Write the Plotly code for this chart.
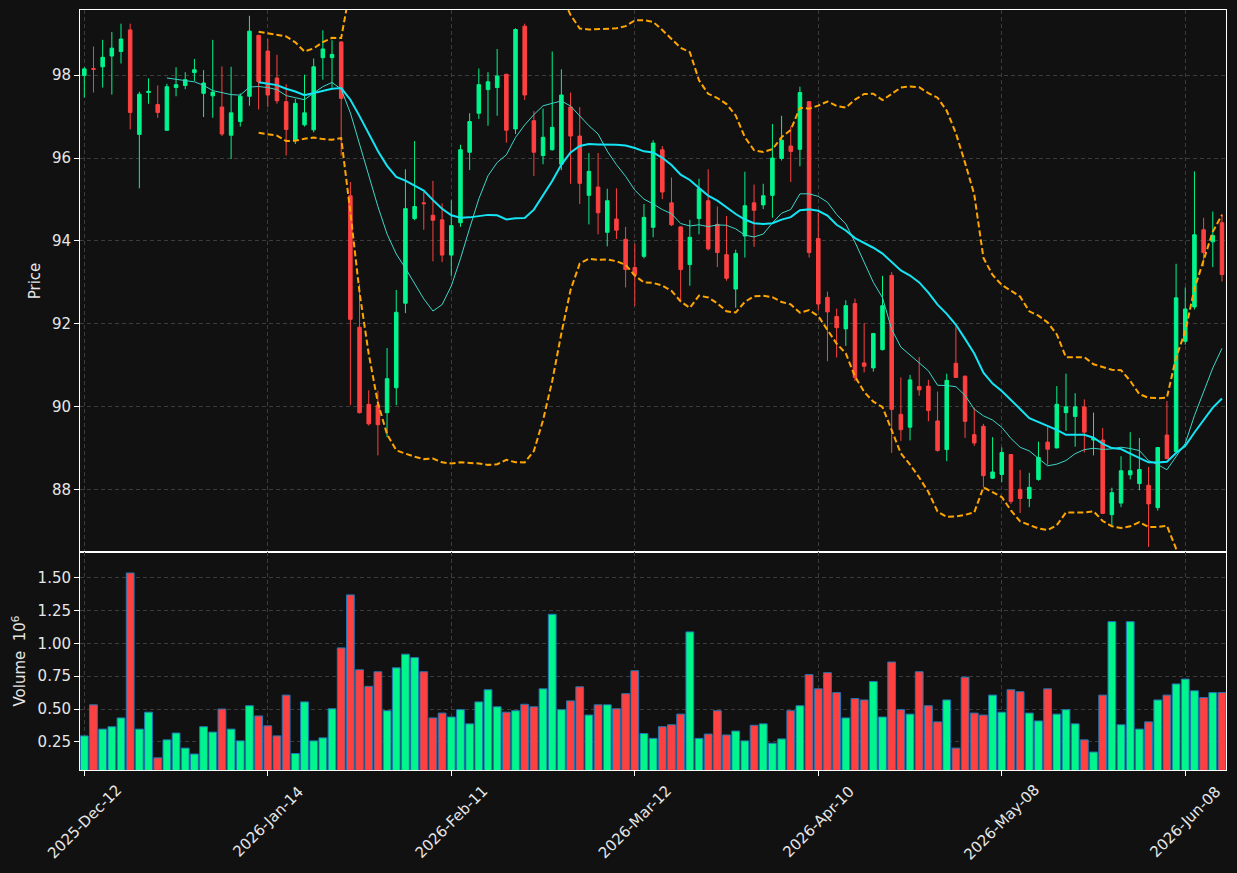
import pandas as pd
import numpy as np
import plotly.graph_objects as go

# ---------------- data ----------------
HOLIDAYS = ["2025-12-25", "2025-12-26", "2026-01-01", "2026-02-16", "2026-04-03", "2026-05-25"]
START_DATE = "2025-12-12"
N_BARS = 125

OPEN = [97.99, 98.16, 98.20, 98.46, 98.57, 99.09, 96.57, 97.58, 97.29, 96.67,
        97.70, 97.75, 98.06, 97.56, 97.50, 97.23, 96.55, 96.88, 97.49, 98.96,
        98.58, 97.93, 97.36, 96.43, 96.80, 96.68, 98.42, 98.42, 98.80, 95.09,
        91.92, 90.06, 90.04, 89.86, 90.46, 92.50, 94.54, 94.92, 94.62, 94.51,
        93.66, 94.44, 96.14, 97.08, 97.65, 97.70, 98.02, 96.70, 99.18, 96.90,
        96.06, 96.20, 95.85, 97.23, 96.53, 95.10, 95.30, 94.21, 94.53, 94.04,
        93.36, 93.63, 94.33, 96.20, 94.92, 94.34, 93.43, 94.54, 94.97, 94.40,
        93.67, 92.84, 94.12, 94.92, 94.87, 95.10, 95.99, 96.29, 96.21, 97.36,
        94.06, 92.64, 92.18, 91.88, 92.49, 91.06, 90.94, 91.38, 93.17, 89.82,
        89.51, 90.49, 90.50, 89.66, 88.97, 91.05, 90.74, 89.33, 89.53, 88.28,
        88.37, 88.85, 88.01, 87.79, 88.25, 89.15, 89.01, 89.86, 89.77, 90.00,
        89.20, 89.20, 87.40, 87.68, 88.36, 88.15, 88.11, 87.57, 89.32, 88.92,
        91.58, 92.41, 94.27, 93.98, 94.44]

HIGH = [98.19, 98.69, 98.85, 99.04, 99.24, 99.24, 97.60, 97.92, 97.75, 97.79,
        98.19, 98.07, 98.39, 98.12, 98.85, 98.21, 98.20, 97.56, 99.43, 98.97,
        98.87, 98.49, 97.78, 97.43, 98.01, 98.40, 99.08, 98.84, 98.81, 95.42,
        92.96, 90.40, 90.39, 91.42, 92.82, 95.73, 96.41, 95.18, 95.45, 94.91,
        94.98, 96.32, 97.08, 98.16, 98.07, 98.63, 98.03, 99.13, 99.24, 97.13,
        97.19, 98.57, 98.14, 97.58, 97.23, 96.12, 96.12, 95.26, 95.27, 94.34,
        93.93, 94.89, 96.43, 96.29, 95.53, 94.35, 94.51, 95.50, 95.73, 94.83,
        94.60, 93.79, 95.67, 95.36, 95.38, 96.82, 97.02, 96.76, 97.72, 97.37,
        94.68, 92.78, 92.37, 92.57, 92.61, 92.02, 91.78, 93.16, 93.25, 90.71,
        90.77, 91.20, 90.65, 90.37, 90.80, 91.94, 90.75, 89.98, 89.59, 89.27,
        89.02, 88.86, 88.48, 88.41, 89.16, 89.51, 90.50, 90.80, 90.33, 90.18,
        89.86, 89.49, 88.05, 88.81, 89.39, 89.25, 88.55, 89.03, 90.14, 93.45,
        92.88, 95.68, 94.56, 94.71, 94.65]

LOW = [97.46, 97.58, 97.70, 97.53, 98.28, 96.69, 95.27, 97.31, 96.97, 96.66,
       97.49, 97.66, 97.86, 96.99, 96.97, 96.53, 95.98, 96.76, 97.26, 97.17,
       97.23, 97.31, 96.06, 96.34, 96.76, 96.62, 97.89, 97.70, 96.06, 90.04,
       89.84, 89.55, 88.83, 89.27, 90.04, 92.26, 94.50, 94.27, 93.51, 93.49,
       93.16, 94.34, 95.71, 96.94, 96.78, 97.02, 96.37, 96.58, 97.40, 95.57,
       95.85, 96.18, 95.71, 95.38, 94.89, 94.40, 94.16, 93.87, 94.05, 92.88,
       92.43, 93.58, 94.09, 95.01, 94.36, 92.55, 92.92, 94.16, 93.77, 93.37,
       93.04, 92.39, 93.60, 93.86, 94.77, 94.56, 95.94, 95.42, 95.80, 93.60,
       92.32, 91.10, 91.19, 91.47, 90.62, 90.83, 90.85, 91.36, 88.89, 89.18,
       89.19, 90.27, 89.65, 88.92, 88.69, 90.70, 89.25, 89.06, 88.05, 88.26,
       88.19, 87.66, 87.44, 87.58, 88.22, 88.60, 89.00, 89.42, 89.04, 88.90,
       88.83, 87.42, 87.11, 87.58, 88.25, 87.99, 86.62, 87.50, 88.74, 88.91,
       91.50, 92.35, 93.39, 93.37, 93.02]

CLOSE = [98.15, 98.14, 98.43, 98.65, 98.87, 97.10, 97.54, 97.61, 97.10, 97.72,
         97.77, 97.89, 98.13, 97.81, 97.59, 96.58, 97.09, 97.49, 99.06, 97.84,
         97.52, 97.38, 96.69, 97.32, 97.09, 98.20, 98.63, 98.50, 97.44, 92.11,
         89.86, 89.59, 89.57, 90.68, 92.28, 94.78, 94.83, 94.90, 94.50, 93.66,
         94.37, 96.20, 96.88, 97.77, 97.84, 97.98, 96.67, 99.10, 97.52, 96.14,
         96.50, 96.74, 97.52, 96.53, 95.39, 95.68, 94.68, 94.97, 94.26, 93.31,
         93.18, 94.57, 96.36, 95.18, 94.39, 93.31, 94.09, 95.26, 93.81, 93.72,
         93.10, 93.70, 94.85, 94.74, 95.09, 96.00, 96.43, 96.16, 97.58, 93.72,
         92.48, 92.29, 91.91, 92.44, 90.71, 90.98, 91.77, 92.44, 89.94, 89.45,
         90.65, 90.41, 89.91, 88.95, 90.64, 90.71, 89.65, 89.13, 88.34, 88.43,
         88.90, 87.72, 87.79, 88.06, 88.78, 88.98, 90.06, 90.00, 90.00, 89.39,
         89.24, 87.43, 87.93, 88.46, 88.46, 88.49, 87.66, 89.02, 88.75, 92.63,
         92.36, 94.15, 93.72, 94.13, 93.19]

VOLUME_M = [0.295, 0.532, 0.347, 0.365, 0.432, 1.537, 0.347, 0.476, 0.128, 0.265,
            0.317, 0.202, 0.157, 0.365, 0.324, 0.500, 0.347, 0.257, 0.525, 0.447,
            0.372, 0.295, 0.606, 0.161, 0.554, 0.257, 0.280, 0.502, 0.966, 1.370,
            0.799, 0.673, 0.784, 0.487, 0.814, 0.918, 0.892, 0.784, 0.432, 0.469,
            0.439, 0.495, 0.387, 0.554, 0.647, 0.517, 0.476, 0.487, 0.536, 0.517,
            0.654, 1.222, 0.495, 0.562, 0.669, 0.454, 0.532, 0.532, 0.502, 0.617,
            0.792, 0.313, 0.276, 0.365, 0.380, 0.461, 1.088, 0.276, 0.309, 0.487,
            0.302, 0.332, 0.257, 0.376, 0.387, 0.239, 0.272, 0.487, 0.525, 0.762,
            0.654, 0.777, 0.625, 0.432, 0.580, 0.569, 0.710, 0.439, 0.858, 0.495,
            0.461, 0.784, 0.525, 0.402, 0.569, 0.202, 0.743, 0.469, 0.454, 0.606,
            0.476, 0.647, 0.632, 0.469, 0.409, 0.654, 0.461, 0.495, 0.387, 0.265,
            0.172, 0.606, 1.166, 0.380, 1.166, 0.347, 0.402, 0.569, 0.606, 0.691,
            0.728, 0.639, 0.587, 0.625, 0.625]

MA_SHORT = 10
MA_LONG = 20
BB_STD = 2
TICK_EVERY = 20

# ---------------- derived ----------------
bday = pd.offsets.CustomBusinessDay(holidays=HOLIDAYS)
dates = pd.date_range(START_DATE, periods=N_BARS, freq=bday)
idx = np.arange(N_BARS)
close_s = pd.Series(CLOSE)
ma_s = close_s.rolling(MA_SHORT).mean()
ma_l = close_s.rolling(MA_LONG).mean()
sd = close_s.rolling(MA_LONG).std(ddof=0)
bb_up = ma_l + BB_STD * sd
bb_lo = ma_l - BB_STD * sd

UP = "#00f58c"
DOWN = "#ff4040"
BG = "#111111"
FG = "#e6e6e6"
GRID = "#3c3c3c"
FONT = "DejaVu Sans"
FS = 15

vol_colors = [UP if c >= o else DOWN for o, c in zip(OPEN, CLOSE)]

fig = go.Figure()
fig.add_trace(go.Candlestick(
    x=idx, open=OPEN, high=HIGH, low=LOW, close=CLOSE,
    increasing=dict(line=dict(color=UP, width=1), fillcolor=UP),
    decreasing=dict(line=dict(color=DOWN, width=1), fillcolor=DOWN),
    whiskerwidth=0, xaxis="x", yaxis="y", showlegend=False))
fig.add_trace(go.Scatter(x=idx, y=bb_up, mode="lines", xaxis="x", yaxis="y",
                         line=dict(color="#ffa500", width=2, dash="6px,3px"), showlegend=False))
fig.add_trace(go.Scatter(x=idx, y=bb_lo, mode="lines", xaxis="x", yaxis="y",
                         line=dict(color="#ffa500", width=2, dash="6px,3px"), showlegend=False))
fig.add_trace(go.Scatter(x=idx, y=ma_s, mode="lines", xaxis="x", yaxis="y",
                         line=dict(color="#3cd6c8", width=1), showlegend=False))
fig.add_trace(go.Scatter(x=idx, y=ma_l, mode="lines", xaxis="x", yaxis="y",
                         line=dict(color="#14e4f4", width=2), showlegend=False))
fig.add_trace(go.Bar(x=idx, y=VOLUME_M, xaxis="x2", yaxis="y2", width=0.85,
                     marker=dict(color=vol_colors, line=dict(color="#1f77b4", width=1)),
                     showlegend=False))

tickvals = list(range(0, N_BARS, TICK_EVERY))
ticktext = [d.strftime("%Y-%b-%d") for d in dates[::TICK_EVERY]]
XR = [-0.47, 124.44]
VOL_TOP = 218 / 760

common_x = dict(range=XR, tickvals=tickvals, showgrid=True, gridcolor=GRID, griddash="4px,3px",
                gridwidth=1, showline=True, linecolor="white", linewidth=1, mirror=True,
                zeroline=False, fixedrange=True)
common_y = dict(ticks="outside", ticklen=5, tickcolor="white", showgrid=True, gridcolor=GRID,
                griddash="4px,3px", showline=True, linecolor="white", mirror=True, zeroline=False,
                tickfont=dict(size=FS))
fig.update_layout(
    width=1237, height=873,
    margin=dict(l=80, r=11, t=10, b=103),
    paper_bgcolor=BG, plot_bgcolor=BG,
    font=dict(family=FONT, color=FG, size=FS),
    boxgap=0.45, bargap=0.15,
    xaxis=dict(domain=[0, 1], anchor="y", showticklabels=False, ticks="",
               rangeslider=dict(visible=False), **common_x),
    xaxis2=dict(domain=[0, 1], anchor="y2", matches="x", showticklabels=False,
                ticks="outside", ticklen=5, tickcolor="white", **common_x),
    yaxis=dict(domain=[VOL_TOP, 1], range=[86.50, 99.57], tickvals=[88, 90, 92, 94, 96, 98],
               title=dict(text="Price", standoff=7, font=dict(size=FS)), **common_y),
    yaxis2=dict(domain=[0, VOL_TOP], range=[0.035, 1.697],
                tickvals=[0.25, 0.5, 0.75, 1.0, 1.25, 1.5], tickformat=".2f",
                title=dict(text="Volume  10<sup>6</sup>", standoff=8, font=dict(size=FS)),
                **common_y),
)

for tv, tt in zip(tickvals, ticktext):
    fig.add_annotation(x=tv, y=-0.068, xref="x2", yref="paper", text=tt, showarrow=False,
                       textangle=-45, xanchor="center", yanchor="middle",
                       font=dict(family=FONT, size=FS, color=FG))

fig.write_html("out.html")
